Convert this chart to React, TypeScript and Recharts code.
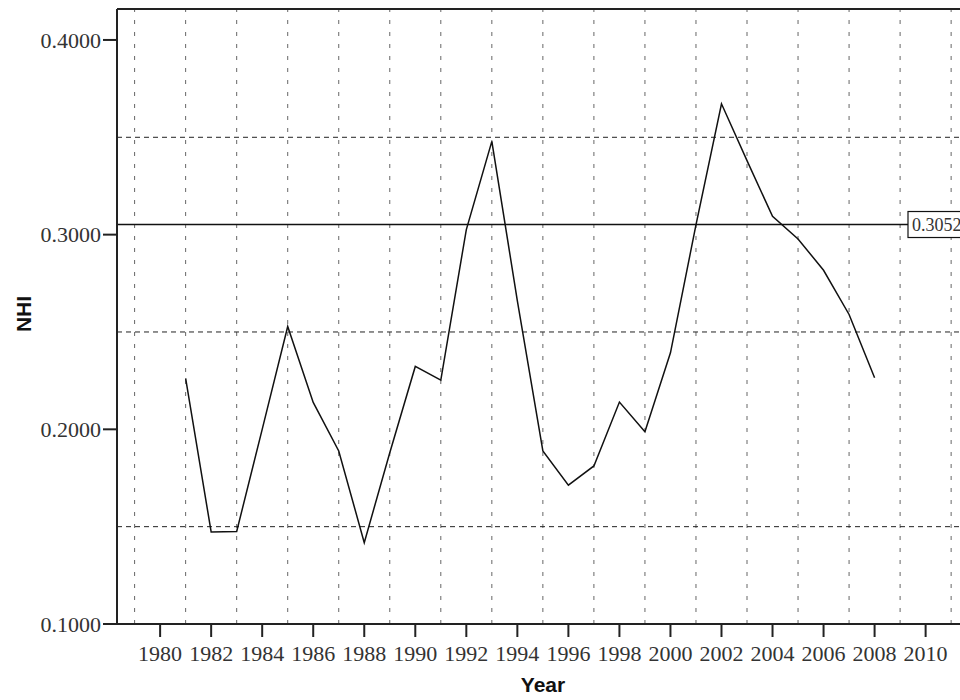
import React from 'react';
import { LineChart, Line, XAxis, YAxis, ReferenceLine } from 'recharts';

const years = [
  1981, 1982, 1983, 1984, 1985, 1986, 1987, 1988, 1989, 1990, 1991, 1992, 1993, 1994,
  1995, 1996, 1997, 1998, 1999, 2000, 2001, 2002, 2003, 2004, 2005, 2006, 2007, 2008,
];
const nhi = [
  0.2262, 0.1473, 0.1475, 0.2, 0.2528, 0.2138, 0.1889, 0.1418, 0.188, 0.2323, 0.2253, 0.3026, 0.3479, 0.266,
  0.1889, 0.1713, 0.1812, 0.214, 0.1988, 0.2393, 0.305, 0.3672, 0.338, 0.3094, 0.2978, 0.2817, 0.259, 0.2265,
];
const xTicks = [1980, 1982, 1984, 1986, 1988, 1990, 1992, 1994, 1996, 1998, 2000, 2002, 2004, 2006, 2008, 2010];
const yTicks = [0.1, 0.2, 0.3, 0.4];
const gridYears = [
  1979, 1981, 1983, 1985, 1987, 1989, 1991, 1993, 1995, 1997, 1999, 2001, 2003, 2005, 2007, 2009, 2011,
];
const gridLevels = [0.15, 0.25, 0.35];
const refValue = 0.3052;

const data = years.map((year, i) => ({ year, nhi: nhi[i] }));

const serif = '"Liberation Serif", "Times New Roman", serif';
const sans = '"Liberation Sans", Arial, sans-serif';
const X_DOMAIN = [1978.31, 2011.7];
const Y_DOMAIN = [0.1, 0.4159];

const RefLabel = ({ viewBox }: any) => {
  const { y } = viewBox;
  const bx = 908;
  return (
    <g>
      <rect x={bx} y={y - 13} width={62} height={26} fill="#fff" stroke="#111" strokeWidth={1.2} />
      <text x={bx + 4} y={y + 6} fontFamily={serif} fontSize={18} fill="#333">
        {refValue.toFixed(4)}
      </text>
    </g>
  );
};

const YearTitle = ({ viewBox }: any) => (
  <text
    x={viewBox.x + viewBox.width / 2}
    y={692}
    textAnchor="middle"
    fontFamily={sans}
    fontWeight="bold"
    fontSize={21}
    fill="#111"
  >
    Year
  </text>
);

const NhiTitle = () => (
  <text
    x={23}
    y={314}
    transform="rotate(-90 23 314)"
    textAnchor="middle"
    dominantBaseline="central"
    fontFamily={sans}
    fontWeight="bold"
    fontSize={21}
    fill="#111"
  >
    NHI
  </text>
);

export default function App() {
  return (
    <div
      style={{
        position: 'fixed',
        left: 0,
        top: 0,
        width: 960,
        height: 700,
        overflow: 'hidden',
        background: '#fff',
      }}
    >
      <LineChart width={969} height={700} data={data} margin={{ top: 9, right: 0, bottom: 0, left: 0 }}>
        <XAxis
          dataKey="year"
          type="number"
          domain={X_DOMAIN}
          allowDataOverflow
          ticks={xTicks}
          interval={0}
          height={76}
          tickSize={13}
          tickMargin={8}
          tick={{ fontFamily: serif, fontSize: 22, fill: '#333' }}
          axisLine={{ stroke: '#222', strokeWidth: 2 }}
          tickLine={{ stroke: '#222', strokeWidth: 2 }}
          label={<YearTitle />}
        />
        <YAxis
          type="number"
          domain={Y_DOMAIN}
          allowDataOverflow
          ticks={yTicks}
          interval={0}
          width={117}
          tickSize={14}
          tickFormatter={(v: number) => v.toFixed(4)}
          tick={{ fontFamily: serif, fontSize: 22, fill: '#333' }}
          axisLine={{ stroke: '#222', strokeWidth: 2 }}
          tickLine={{ stroke: '#222', strokeWidth: 2 }}
          label={<NhiTitle />}
        />
        {gridYears.map((yr) => (
          <ReferenceLine key={`gx-${yr}`} x={yr} stroke="#666" strokeWidth={1} strokeDasharray="4 8" />
        ))}
        {gridLevels.map((lv) => (
          <ReferenceLine key={`gy-${lv}`} y={lv} stroke="#222" strokeWidth={1} strokeDasharray="5 4" />
        ))}
        <ReferenceLine y={Y_DOMAIN[1]} stroke="#222" strokeWidth={2} />
        <ReferenceLine y={refValue} stroke="#111" strokeWidth={1.5} label={<RefLabel />} />
        <Line
          type="linear"
          dataKey="nhi"
          stroke="#111"
          strokeWidth={1.5}
          dot={false}
          activeDot={false}
          isAnimationActive={false}
        />
      </LineChart>
    </div>
  );
}
